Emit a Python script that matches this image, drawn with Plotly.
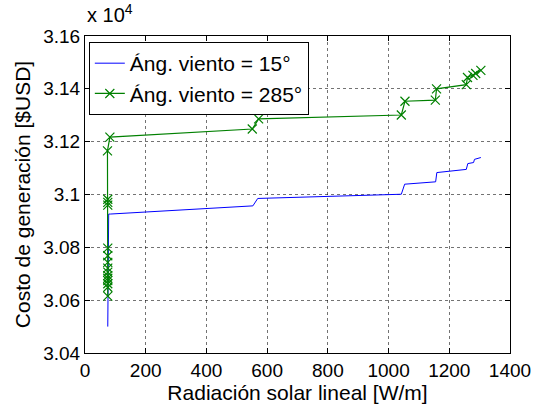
import plotly.graph_objects as go

# Data (cost in USD; axis shows values x 10^4)
blue_x = [75, 76, 78, 83, 553, 569, 1042, 1053, 1155, 1159, 1256, 1261, 1280, 1283, 1304]
blue_y = [30500, 30620, 30926, 30926, 30957, 30985, 31001, 31039, 31048, 31083, 31095, 31117, 31121, 31133, 31140]

green_x = [75, 75, 75, 75, 75, 75, 75, 75, 75, 75, 75, 75, 75, 75, 74, 82,
           551, 572, 1042, 1054, 1154, 1158, 1256, 1260, 1278, 1287, 1304]
green_y = [30615, 30649, 30662, 30674, 30683, 30693, 30706, 30721, 30743, 30768, 30797,
           30960, 30970, 30982, 31165, 31217,
           31248, 31286, 31301, 31353, 31357, 31400, 31416, 31443, 31451, 31458, 31470]

x_ticks = [0, 200, 400, 600, 800, 1000, 1200, 1400]
y_ticks = [3.04, 3.06, 3.08, 3.10, 3.12, 3.14, 3.16]
y_ticktext = ["3.04", "3.06", "3.08", "3.1", "3.12", "3.14", "3.16"]

scale = 1e4
FONT = "Liberation Sans, Arial, sans-serif"

fig = go.Figure()
fig.add_trace(go.Scatter(
    x=blue_x, y=[v / scale for v in blue_y], mode="lines",
    line=dict(color="#0000FF", width=1),
    name="Áng. viento = 15°"))
fig.add_trace(go.Scatter(
    x=green_x, y=[v / scale for v in green_y], mode="lines+markers",
    line=dict(color="#008000", width=1.2),
    marker=dict(symbol="x-thin-open", size=9, line=dict(color="#008000", width=1.2)),
    name="Áng. viento = 285°"))

axis_common = dict(
    showline=True, linecolor="black", linewidth=1, mirror="ticks",
    ticks="inside", ticklen=5, tickcolor="black", tickwidth=1,
    showgrid=True, gridcolor="rgba(0,0,0,0.55)", griddash="dot", gridwidth=1,
    zeroline=False, tickfont=dict(family=FONT, size=19, color="black"),
)

fig.update_layout(
    width=543, height=409, autosize=False,
    margin=dict(l=85, r=26, t=36, b=55),
    paper_bgcolor="white", plot_bgcolor="white",
    font=dict(family=FONT, color="black"),
    showlegend=True,
    legend=dict(x=0.009, y=0.981, xanchor="left", yanchor="top",
                bgcolor="white", bordercolor="black", borderwidth=1,
                font=dict(family=FONT, size=21, color="black"),
                tracegroupgap=0),
    xaxis=dict(range=[0, 1400], tickvals=x_ticks,
               title=dict(text="Radiación solar lineal [W/m]",
                          font=dict(family=FONT, size=21, color="black"), standoff=2),
               **axis_common),
    yaxis=dict(range=[3.04, 3.16], tickvals=y_ticks, ticktext=y_ticktext,
               title=dict(text="Costo de generación [$USD]",
                          font=dict(family=FONT, size=21, color="black"), standoff=6),
               **axis_common),
    annotations=[dict(text="x 10<sup>4</sup>", xref="paper", yref="paper",
                      x=0, y=1, xanchor="left", yanchor="bottom", yshift=8,
                      showarrow=False, font=dict(family=FONT, size=20, color="black"))],
)

fig.write_html("out.html")
